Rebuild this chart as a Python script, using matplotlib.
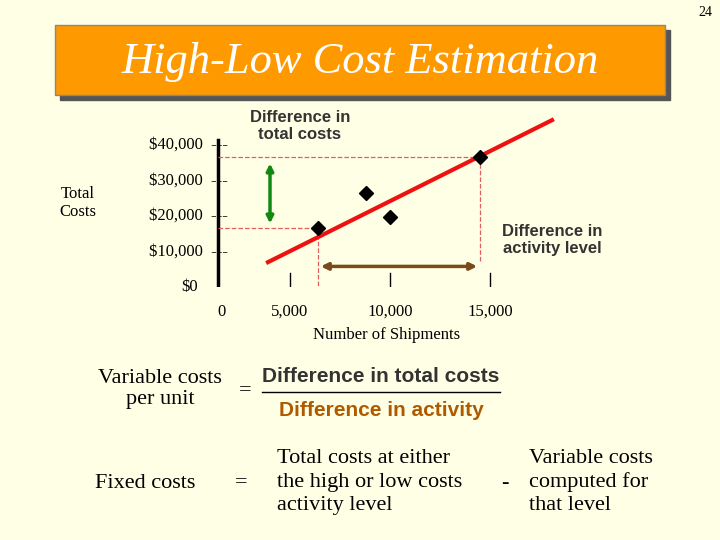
import matplotlib.pyplot as plt
from matplotlib.patches import Rectangle

# data (shipments, total cost)
ship = [6400, 8800, 10000, 14500]
cost = [16600, 26500, 19700, 36600]
fit_x = [3900, 18100]
fit_y = [7000, 47000]
y_ticks = [0, 10000, 20000, 30000, 40000]
y_labels = ["$0", "$10,000", "$20,000", "$30,000", "$40,000"]
x_ticks = [5000, 10000, 15000]
x_labels = ["5,000", "10,000", "15,000"]

bg = "#FFFFE5"
fig = plt.figure(figsize=(7.2, 5.4), dpi=100, facecolor=bg)

# overlay axes in pixel coordinates for slide text
ov = fig.add_axes([0, 0, 1, 1])
ov.set_xlim(0, 720)
ov.set_ylim(540, 0)
ov.axis("off")
serif = "Liberation Serif"
sans = "Liberation Sans"

ov.add_patch(Rectangle((60, 30), 610, 70, color="#555555"))
ov.add_patch(Rectangle((55, 25), 610, 70, facecolor="#FF9900", edgecolor="#888888"))
ov.text(360, 62, "High-Low Cost Estimation", fontsize=32, style="italic",
        family=serif, color="white", ha="center", va="center")
ov.text(712, 12, "24", fontsize=10, family=serif, ha="right", va="center")

ov.text(78, 203, "Total\nCosts", fontsize=12, family=serif, ha="center", va="center")
ov.text(300, 126, "Difference in\ntotal costs", fontsize=12, family=sans,
        weight="bold", color="#333333", ha="center", va="center")
ov.text(552, 240, "Difference in\nactivity level", fontsize=12, family=sans,
        weight="bold", color="#333333", ha="center", va="center")
ov.text(387, 335, "Number of Shipments", fontsize=12, family=serif, ha="center", va="center")

ov.text(160, 389, "Variable costs\nper unit", fontsize=16, family=serif,
        ha="center", va="center", linespacing=1.2)
ov.text(245, 391, "=", fontsize=16, family=serif, ha="center", va="center")
ov.text(381, 377, "Difference in total costs", fontsize=15, family=sans,
        weight="bold", color="#333333", ha="center", va="center")
ov.plot([262, 500], [392, 392], color="black", lw=1)
ov.text(381, 411, "Difference in activity", fontsize=15, family=sans,
        weight="bold", color="#B05A00", ha="center", va="center")

ov.text(145, 483, "Fixed costs", fontsize=16, family=serif, ha="center", va="center")
ov.text(241, 483, "=", fontsize=16, family=serif, ha="center", va="center")
ov.text(277, 482, "Total costs at either\nthe high or low costs\nactivity level",
        fontsize=16, family=serif, ha="left", va="center", linespacing=1.3)
ov.text(505, 483, "-", fontsize=16, family=serif, ha="center", va="center")
ov.text(529, 482, "Variable costs\ncomputed for\nthat level",
        fontsize=16, family=serif, ha="left", va="center", linespacing=1.3)

# chart axes: px = 190 + x/50, py = 287 - y*0.00355
x0, x1 = -1400, 18500
y0, y1 = 0, 48000
left = (190 + x0 / 50) / 720
right = (190 + x1 / 50) / 720
bottom = 1 - 287 / 540
top = 1 - (287 - y1 * 0.00355) / 540
ax = fig.add_axes([left, bottom, right - left, top - bottom])
ax.set_xlim(x0, x1)
ax.set_ylim(y0, y1)
ax.patch.set_alpha(0)
ax.axis("off")

ax.plot([1400, 1400], [0, 41500], color="black", lw=2.5)
for t, lab in zip(y_ticks, y_labels):
    if t == 0:
        ax.text(400, t, lab, fontsize=12, family=serif, ha="right", va="center")
    else:
        ax.text(1900, t, lab + "  ---", fontsize=12, family=serif, ha="right", va="center")
ax.text(1600, -7000, "0", fontsize=12, family=serif, ha="center", va="center")
for t, lab in zip(x_ticks, x_labels):
    ax.plot([t, t], [0, 4000], color="black", lw=1)
    ax.text(t, -7000, lab, fontsize=12, family=serif, ha="center", va="center")

ax.plot([1400, ship[3]], [cost[3], cost[3]], ls="--", color="#E06060", lw=0.9)
ax.plot([ship[3], ship[3]], [cost[3], 7000], ls="--", color="#E06060", lw=0.9)
ax.plot([1400, ship[0]], [cost[0], cost[0]], ls="--", color="#E06060", lw=0.9)
ax.plot([ship[0], ship[0]], [cost[0], 0], ls="--", color="#E06060", lw=0.9)

ax.plot(fit_x, fit_y, color="#EE1111", lw=3)
ax.plot(ship, cost, "D", color="black", ms=7)

ax.annotate("", xy=(4000, cost[3] - 1000), xytext=(4000, cost[0] + 500),
            arrowprops=dict(arrowstyle="<|-|>", color="#118811", lw=2.5))
ax.annotate("", xy=(ship[0], 5800), xytext=(ship[3], 5800),
            arrowprops=dict(arrowstyle="<|-|>", color="#7A4A1A", lw=2.5))

fig.savefig("out.png", dpi=100, facecolor=bg)
